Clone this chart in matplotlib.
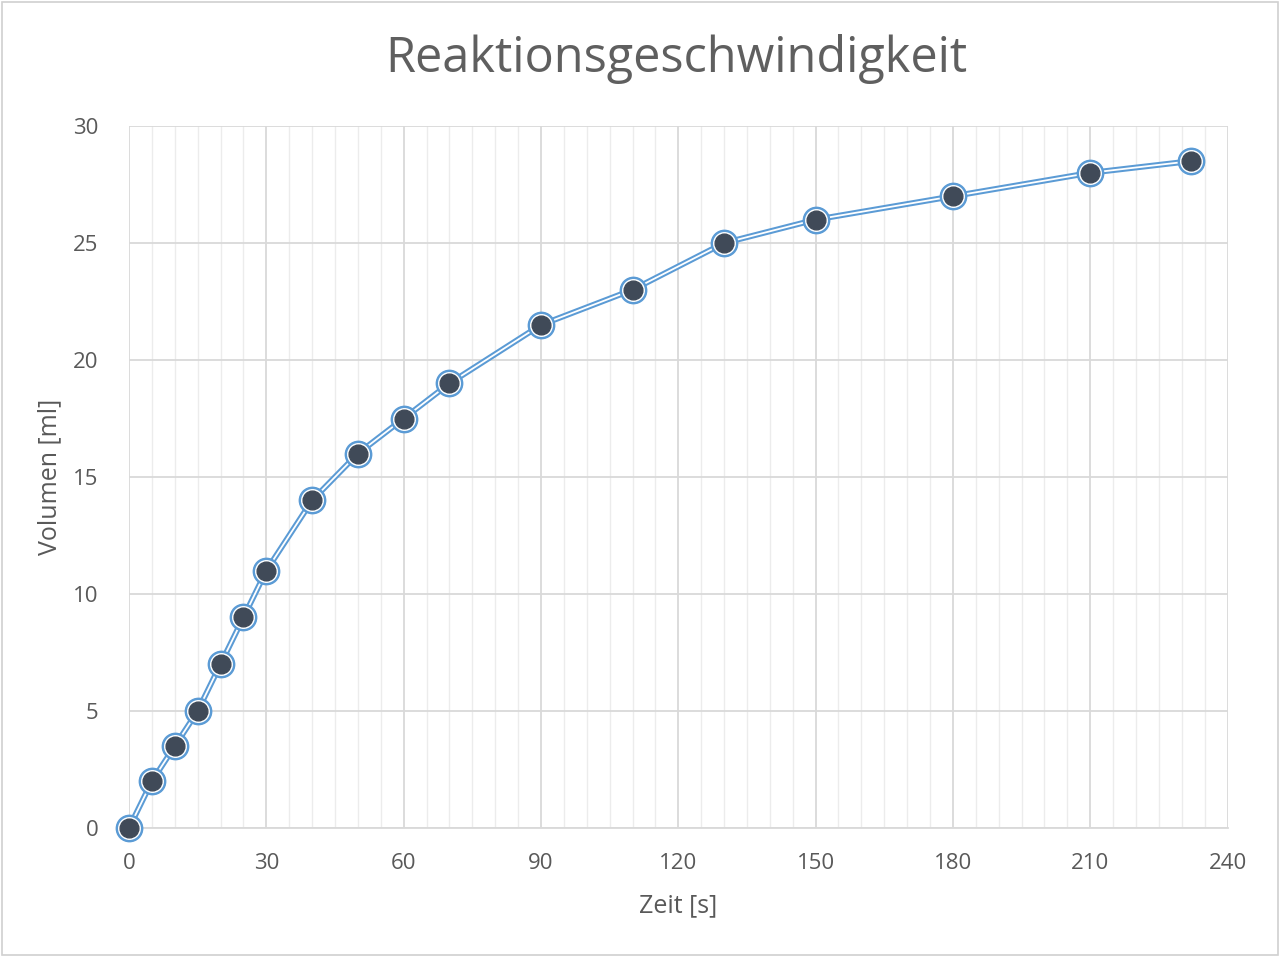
import matplotlib
matplotlib.use("Agg")
import matplotlib.pyplot as plt
from matplotlib.ticker import MultipleLocator
from matplotlib.patches import Rectangle

plt.rcParams['font.family'] = ['Open Sans', 'DejaVu Sans']

zeit = [0, 5, 10, 15, 20, 25, 30, 40, 50, 60, 70, 90, 110, 130, 150, 180, 210, 232]
volumen = [0, 2, 3.5, 5, 7, 9, 11, 14, 16, 17.5, 19, 21.5, 23, 25, 26, 27, 28, 28.5]

blue = '#5b9bd5'
text_col = '#595959'

fig = plt.figure(figsize=(12.8, 9.57), dpi=100)
ax = fig.add_axes([0.1008, 0.1348, 0.8582, 0.7335])
fig.patches.append(Rectangle((0.0015, 0.002), 0.997, 0.996, transform=fig.transFigure,
                             fill=False, edgecolor='#d0d0d0', lw=1.2))

# double line: blue outline with white core
ax.plot(zeit, volumen, color=blue, lw=4.2, solid_capstyle='round', zorder=3, clip_on=False)
ax.plot(zeit, volumen, color='white', lw=1.3, zorder=4, clip_on=False)
# markers: blue ring, white ring, dark fill
ax.plot(zeit, volumen, 'o', ms=19, color=blue, mec=blue, zorder=5, clip_on=False)
ax.plot(zeit, volumen, 'o', ms=15.5, color='white', mec='white', zorder=6, clip_on=False)
ax.plot(zeit, volumen, 'o', ms=13.5, color='#404a58', mec='#404a58', zorder=7, clip_on=False)

ax.set_xlim(0, 240)
ax.set_ylim(0, 30)
ax.xaxis.set_major_locator(MultipleLocator(30))
ax.xaxis.set_minor_locator(MultipleLocator(5))
ax.yaxis.set_major_locator(MultipleLocator(5))
ax.grid(which='major', color='#d9d9d9', lw=1.3)
ax.grid(which='minor', axis='x', color='#ececec', lw=1.0)
ax.set_axisbelow(True)
for s in ['top', 'right', 'left']:
    ax.spines[s].set_visible(False)
ax.spines['bottom'].set_color('#d9d9d9')
ax.spines['bottom'].set_linewidth(1.3)
ax.tick_params(which='both', length=0, labelsize=16, colors=text_col)
ax.tick_params(axis='x', pad=18)
ax.tick_params(axis='y', pad=22)

ax.set_xlabel('Zeit [s]', fontsize=18, color=text_col, labelpad=14)
ax.set_ylabel('Volumen [ml]', fontsize=18, color=text_col, labelpad=8)
fig.text(0.5285, 0.938, 'Reaktionsgeschwindigkeit', ha='center', va='center',
         fontsize=35, color='#5f5f5f')

fig.savefig('out.png', dpi=100)
